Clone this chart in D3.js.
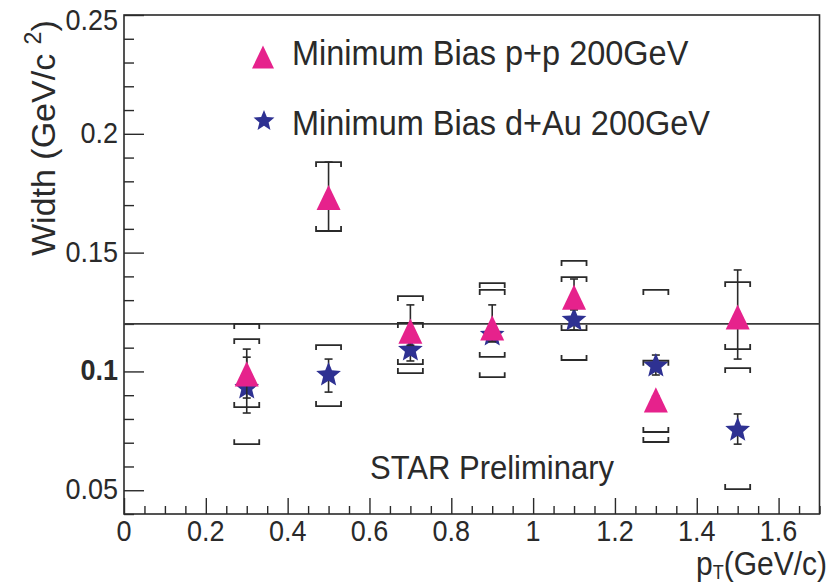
<!DOCTYPE html>
<html><head><meta charset="utf-8">
<script src="https://cdn.jsdelivr.net/npm/d3@7"></script>
<style>html,body{margin:0;padding:0;background:#fff;} svg{display:block;}</style>
</head><body>
<svg id="chart" width="831" height="584"></svg>
<script>
// ---- data ----
const ptValues = [0.3, 0.5, 0.7, 0.9, 1.1, 1.3, 1.5];
// Minimum Bias p+p 200GeV
const ppWidth   = [0.099, 0.1732, 0.117, 0.1183, 0.1313, 0.088, 0.1229];
const ppStatLo  = [0.0825, 0.1591, 0.111, 0.1125, 0.1260, 0.0865, 0.1052];
const ppStatHi  = [0.1094, 0.1881, 0.128, 0.128, 0.1389, 0.0895, 0.1427];
const ppSysLo   = [0.0694, 0.1591, 0.0993, 0.0976, 0.1048, 0.0703, 0.1094];
const ppSysHi   = [0.1136, 0.1881, 0.1317, 0.1372, 0.1465, 0.1343, 0.1376];
// Minimum Bias d+Au 200GeV
const dauWidth  = [0.093, 0.0985, 0.109, 0.1153, 0.1216, 0.1023, 0.0753];
const dauStatLo = [0.0888, 0.0913, 0.1044, 0.1125, 0.1174, 0.0985, 0.0694];
const dauStatHi = [0.106, 0.1052, 0.114, 0.1185, 0.126, 0.1069, 0.0821];
const dauSysLo  = [0.085, 0.0854, 0.1031, 0.1061, 0.1174, 0.0745, 0.0505];
const dauSysHi  = [0.120, 0.1111, 0.1204, 0.1343, 0.1397, 0.1045, 0.1014];
const refLine = 0.12;
const xMajorTicks = [0, 0.2, 0.4, 0.6, 0.8, 1, 1.2, 1.4, 1.6];
const xTickLabels = ["0", "0.2", "0.4", "0.6", "0.8", "1", "1.2", "1.4", "1.6"];
const yMajorTicks = [0.05, 0.1, 0.15, 0.2, 0.25];
const yTickLabels = ["0.05", "0.1", "0.15", "0.2", "0.25"];
const legendLabels = ["Minimum Bias p+p 200GeV", "Minimum Bias d+Au 200GeV"];

// ---- layout ----
const svg = d3.select("#chart");
const FONT = "'Liberation Sans', Arial, Helvetica, sans-serif";
const SY = 1.08; // vertical stretch of text in reference
const x = d3.scaleLinear().domain([0, 1.7]).range([124, 819.5]);
const y = d3.scaleLinear().domain([0.04, 0.25]).range([514, 15]);
const ink = "#2a2a2a";
const ppColor = "#e6228c";
const dauColor = "#2e3192";

function txt(parent, px, py, str, size, anchor, weight) {
  return parent.append("text")
    .attr("transform", `translate(${px},${py}) scale(1,${SY})`)
    .attr("font-family", FONT).attr("font-size", size)
    .attr("font-weight", weight || "normal")
    .attr("text-anchor", anchor || "start").attr("fill", ink)
    .text(str);
}

// frame
svg.append("rect").attr("x", x(0)).attr("y", y(0.25))
  .attr("width", x(1.7) - x(0)).attr("height", y(0.04) - y(0.25))
  .attr("fill", "none").attr("stroke", ink).attr("stroke-width", 1.6);

// x axis ticks
const xMinor = d3.range(0, 1.7001, 0.05).filter(v => !xMajorTicks.some(m => Math.abs(m - v) < 1e-6));
const xAx = svg.append("g").attr("transform", `translate(0,${y(0.04)})`);
xAx.call(d3.axisBottom(x).tickValues(xMajorTicks).tickSize(-16).tickSizeOuter(0).tickFormat(""));
xAx.append("g").call(d3.axisBottom(x).tickValues(xMinor).tickSize(-8).tickSizeOuter(0).tickFormat(""));
xAx.selectAll(".domain").remove();
xAx.selectAll("line").attr("stroke", ink).attr("stroke-width", 1.4);
xMajorTicks.forEach((v, i) => txt(svg, x(v), 541, xTickLabels[i], 27, "middle"));

// y axis ticks
const yMinor = d3.range(0.04, 0.2501, 0.01).filter(v => !yMajorTicks.some(m => Math.abs(m - v) < 1e-6));
const yAx = svg.append("g").attr("transform", `translate(${x(0)},0)`);
yAx.call(d3.axisLeft(y).tickValues(yMajorTicks).tickSize(-20).tickSizeOuter(0).tickFormat(""));
yAx.append("g").call(d3.axisLeft(y).tickValues(yMinor).tickSize(-10).tickSizeOuter(0).tickFormat(""));
yAx.selectAll(".domain").remove();
yAx.selectAll("line").attr("stroke", ink).attr("stroke-width", 1.4);
yMajorTicks.forEach((v, i) => txt(svg, 118, v === 0.25 ? 30 : y(v) + 9, yTickLabels[i], 27, "end", v === 0.1 ? "bold" : "normal"));

// axis titles
const yl = svg.append("text")
  .attr("transform", `translate(55,256) rotate(-90)`)
  .attr("font-family", FONT).attr("font-size", 34).attr("fill", ink);
yl.append("tspan").text("Width (GeV/c ");
yl.append("tspan").attr("font-size", 23).attr("dy", -14).text("2");
yl.append("tspan").attr("dy", 14).text(")");

const xl = svg.append("text")
  .attr("transform", `translate(827,575) scale(1,${SY})`)
  .attr("font-family", FONT).attr("font-size", 30).attr("fill", ink).attr("text-anchor", "end");
xl.append("tspan").text("p");
xl.append("tspan").attr("font-size", 18).attr("dy", 4).text("T");
xl.append("tspan").attr("dy", -4).text("(GeV/c)");

// reference line
svg.append("line").attr("x1", x(0)).attr("x2", x(1.7))
  .attr("y1", y(refLine)).attr("y2", y(refLine))
  .attr("stroke", "#3a3a3a").attr("stroke-width", 1.6);

// marker shapes
const triType = { draw(ctx, size) { const w = Math.sqrt(size); const h = w * 1.05;
  ctx.moveTo(0, -h / 2); ctx.lineTo(w / 2, h / 2); ctx.lineTo(-w / 2, h / 2); ctx.closePath(); } };
const starType = { draw(ctx, size) { const R = Math.sqrt(size) / 2, r = R * 0.44;
  for (let k = 0; k < 10; k++) { const a = -Math.PI / 2 + k * Math.PI / 5; const rr = k % 2 ? r : R;
    const px = rr * Math.cos(a), py = rr * Math.sin(a); if (k) ctx.lineTo(px, py); else ctx.moveTo(px, py); }
  ctx.closePath(); } };

function drawSeries(vals, sLo, sHi, sysLo, sysHi, type, size, color) {
  const g = svg.append("g");
  const data = ptValues.map((p, i) => ({ p, v: vals[i], sl: sLo[i], sh: sHi[i], yl: sysLo[i], yh: sysHi[i] }));
  // systematic brackets
  const bw = 12.5, bt = 5;
  data.forEach(d => {
    const cx = x(d.p);
    const top = y(d.yh), bot = y(d.yl);
    g.append("path").attr("d", `M${cx - bw},${top + bt}V${top}H${cx + bw}V${top + bt}`)
      .attr("fill", "none").attr("stroke", ink).attr("stroke-width", 1.8);
    g.append("path").attr("d", `M${cx - bw},${bot - bt}V${bot}H${cx + bw}V${bot - bt}`)
      .attr("fill", "none").attr("stroke", ink).attr("stroke-width", 1.8);
    // stat error bars
    g.append("line").attr("x1", cx).attr("x2", cx).attr("y1", y(d.sh)).attr("y2", y(d.sl))
      .attr("stroke", ink).attr("stroke-width", 1.6);
    [d.sh, d.sl].forEach(e => g.append("line").attr("x1", cx - 4).attr("x2", cx + 4)
      .attr("y1", y(e)).attr("y2", y(e)).attr("stroke", ink).attr("stroke-width", 1.6));
  });
  g.selectAll("path.mk").data(data).join("path").attr("class", "mk")
    .attr("transform", d => `translate(${x(d.p)},${y(d.v)})`)
    .attr("d", d3.symbol().type(type).size(size)).attr("fill", color);
}
drawSeries(dauWidth, dauStatLo, dauStatHi, dauSysLo, dauSysHi, starType, 26 * 26, dauColor);
drawSeries(ppWidth, ppStatLo, ppStatHi, ppSysLo, ppSysHi, triType, 24 * 24, ppColor);

// legend
const leg = svg.append("g");
leg.append("path").attr("transform", "translate(263,57)")
  .attr("d", d3.symbol().type(triType).size(22 * 22)).attr("fill", ppColor);
leg.append("path").attr("transform", "translate(264,121)")
  .attr("d", d3.symbol().type(starType).size(22 * 22)).attr("fill", dauColor);
txt(leg, 292, 65, legendLabels[0], 32.5, "start");
txt(leg, 292, 135, legendLabels[1], 32.5, "start");

// annotation
txt(svg, 492, 479, "STAR Preliminary", 31, "middle");
</script>
</body></html>
